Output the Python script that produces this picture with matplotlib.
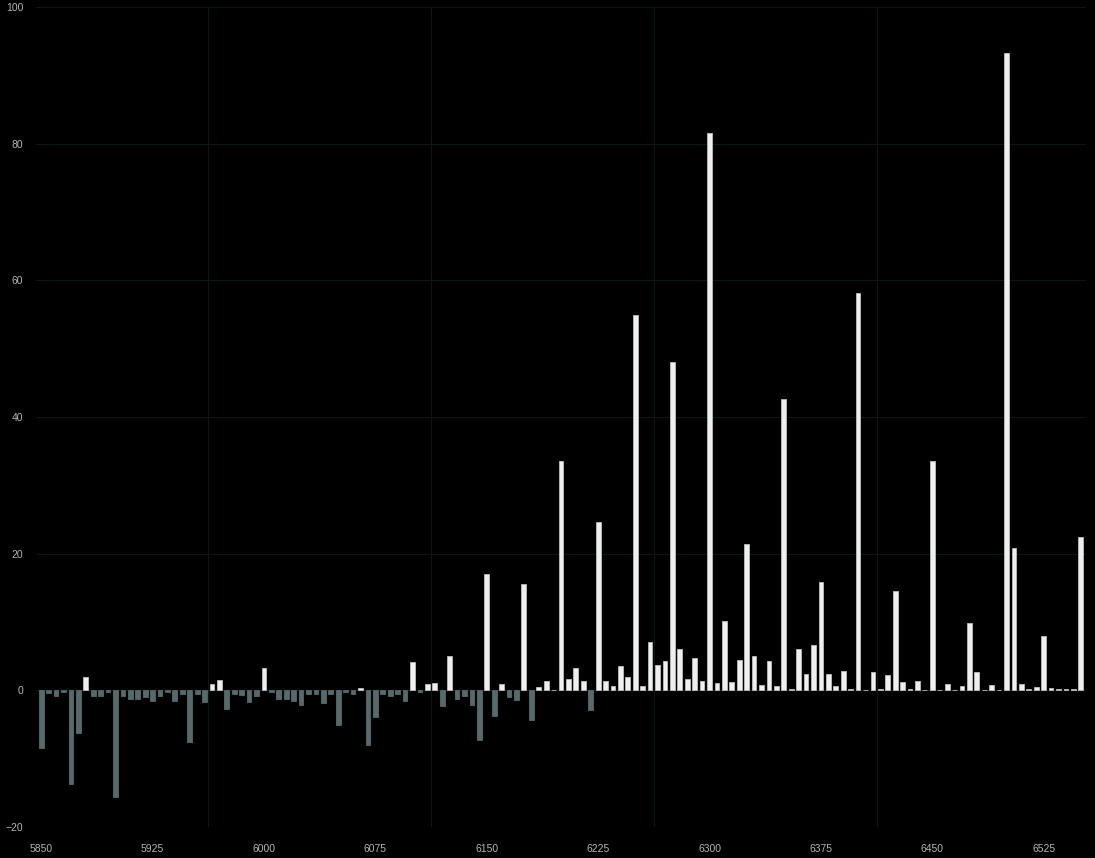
import numpy as np
import matplotlib.pyplot as plt
from matplotlib.ticker import FixedLocator

# Data: one bar every 5 units from 5850 to 6550
wavelengths = np.arange(5850, 6551, 5)
values = [
    -8.5, -0.4, -0.9, -0.3, -13.7, -6.2, 2.0, -0.8, -0.8, -0.3,
    -15.6, -0.9, -1.2, -1.2, -1.0, -1.6, -0.8, -0.3, -1.6, -0.5,
    -7.6, -0.6, -1.7, 0.9, 1.5, -2.7, -0.6, -0.7, -1.7, -0.8,
    3.2, -0.3, -1.3, -1.3, -1.5, -2.2, -0.6, -0.5, -1.9, -0.6,
    -5.1, -0.3, -0.5, 0.4, -8.0, -3.9, -0.5, -0.8, -0.6, -1.6,
    4.1, -0.3, 0.9, 1.0, -2.3, 5.0, -1.2, -0.9, -2.2, -7.3,
    17.0, -3.7, 0.9, -1.0, -1.4, 15.5, -4.4, 0.5, 1.3, 0.1,
    33.5, 1.7, 3.2, 1.3, -2.9, 24.6, 1.3, 0.6, 3.6, 2.0,
    54.9, 0.6, 7.1, 3.7, 4.3, 48.0, 6.1, 1.7, 4.7, 1.3,
    81.5, 1.1, 10.2, 1.2, 4.4, 21.4, 5.0, 0.8, 4.3, 0.6,
    42.7, 0.2, 6.0, 2.4, 6.6, 15.8, 2.4, 0.6, 2.9, 0.2,
    58.1, 0.1, 2.7, 0.2, 2.3, 14.5, 1.2, 0.2, 1.3, 0.1,
    33.5, 0.1, 0.9, 0.1, 0.6, 9.9, 2.7, 0.1, 0.8, 0.1,
    93.2, 20.8, 0.9, 0.2, 0.5, 7.9, 0.4, 0.2, 0.2, 0.2,
    22.5,
]
x_ticks = [5850, 5925, 6000, 6075, 6150, 6225, 6300, 6375, 6450, 6525]
y_ticks = [-20, 0, 20, 40, 60, 80, 100]
v_grid = [5962.5, 6112.5, 6262.5, 6412.5]

pos_color = '#efefef'
neg_color = '#56696b'
grid_color = '#0a1715'
label_color = '#b4b4b4'

plt.rcParams['font.family'] = ['Liberation Sans', 'DejaVu Sans']

fig = plt.figure(figsize=(10.95, 8.58), dpi=100, facecolor='black')
ax = fig.add_axes([36 / 1095, 1 - 827 / 858, 1050 / 1095, 820 / 858])
ax.set_facecolor('black')

colors = [pos_color if v >= 0 else neg_color for v in values]
edges = ['#bcbcbc' if v >= 0 else neg_color for v in values]
ax.bar(wavelengths, values, width=3.2, color=colors, edgecolor=edges,
       linewidth=0.6, zorder=3)

ax.set_xlim(5846.5, 6553.5)
ax.set_ylim(-20, 100)
ax.set_xticks(x_ticks)
ax.set_yticks(y_ticks)
ax.xaxis.set_minor_locator(FixedLocator(v_grid))

ax.grid(True, axis='y', which='major', color=grid_color, linewidth=0.8, zorder=0)
ax.grid(True, axis='x', which='minor', color=grid_color, linewidth=0.8, zorder=0)
ax.grid(False, axis='x', which='major')

for s in ax.spines.values():
    s.set_visible(False)
ax.tick_params(which='both', length=0, colors=label_color, labelsize=7.5)
ax.tick_params(axis='y', pad=9)
ax.tick_params(axis='x', pad=12)

fig.savefig('out.png', dpi=100, facecolor='black')
